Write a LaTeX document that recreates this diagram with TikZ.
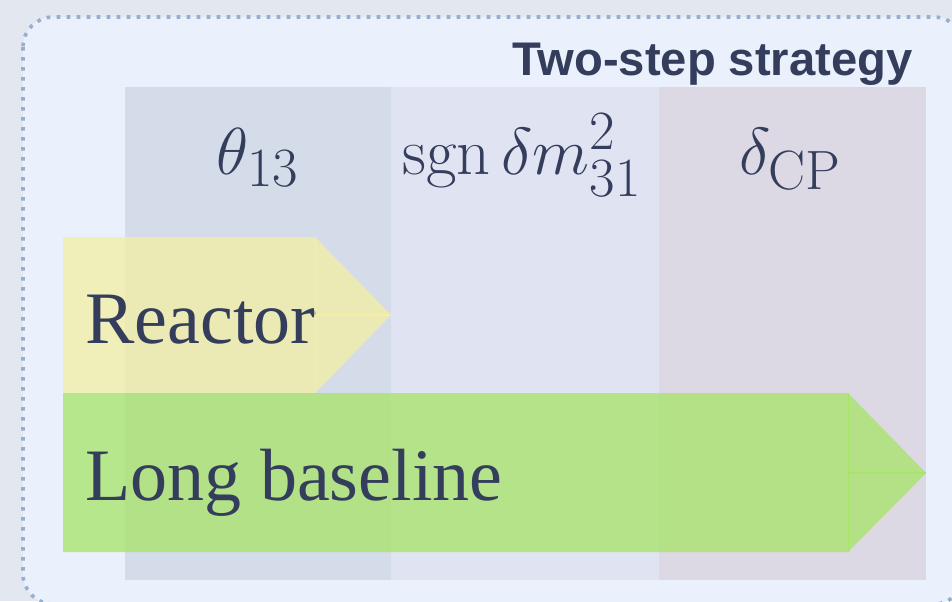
\documentclass[tikz,border=0pt]{standalone}
\usepackage{amsmath}
\usepackage{graphicx}
\usepackage{fontspec}
\newfontfamily\bodyserif{Liberation Serif}
\newfontfamily\titlesans{Liberation Sans}
\usetikzlibrary{positioning}

\definecolor{paper}{RGB}{227,232,240}
\definecolor{panelbg}{RGB}{234,240,252}
\definecolor{panelrim}{RGB}{150,174,208}
\definecolor{colA}{RGB}{212,220,234}
\definecolor{colB}{RGB}{224,227,242}
\definecolor{colC}{RGB}{220,216,228}
\definecolor{ink}{RGB}{52,62,92}
\definecolor{reactorcol}{RGB}{244,239,163}
\definecolor{lbcol}{RGB}{167,228,103}

\newcommand{\bigmath}[1]{\scalebox{1.335}{$#1$}}

\begin{document}
\begin{tikzpicture}[x=0.5pt, y=-0.5pt,
    col/.style={minimum height=246.5pt, inner sep=0pt, outer sep=0pt},
    param/.style={anchor=base, inner sep=0pt, text=ink, font=\fontsize{24.88}{30}\selectfont},
    probe/.style={anchor=base west, inner sep=0pt, text=ink, font=\bodyserif\fontsize{37}{44}\selectfont},
    seam/.style={line width=0.5pt}
]

\useasboundingbox (0,0) rectangle (952,601);
\fill[paper] (0,0) rectangle (952,601);
\filldraw[fill=panelbg, draw=panelrim, line width=1.8pt,
    dash pattern=on 1.8pt off 3.2pt, rounded corners=15pt]
    (23,17) rectangle (964,604);

\node[anchor=base east, inner sep=0pt, text=ink, font=\titlesans\bfseries\fontsize{23.6}{28}\selectfont]
    (title) at (913,75) {Two-step strategy};

\node[col, fill=colA, minimum width=133pt, anchor=north west] (c1) at (125,87) {};

\node[col, fill=colB, right=0pt of c1, minimum width=134pt] (c2) {};

\node[col, fill=colC, right=0pt of c2, minimum width=133.5pt] (c3) {};

\node[param] (theta) at ([yshift=-43.5pt]c1.north) {\bigmath{\theta_{13}}};
\node[param] (hier) at ([yshift=-43.5pt, xshift=-1.5pt]c2.north) {\bigmath{\operatorname{sgn}\delta m^2_{31}}};
\node[param] (dcp) at ([yshift=-43.5pt, xshift=-1pt]c3.north) {\bigmath{\delta_{\mathrm{CP}}}};

\fill[reactorcol, opacity=.75] (63,237) -- (315,237) -- (391,315) -- (315,393) -- (63,393) -- cycle;
\draw[reactorcol, seam] (315,237) -- (315,393);
\draw[reactorcol, seam, line width=1pt] (315,315) -- (391,315);
\fill[ink, opacity=.3] (313,313) circle (1.5pt);

\fill[lbcol, opacity=.75] (63,393) -- (848,393) -- (926,473) -- (848,552) -- (63,552) -- cycle;
\draw[lbcol, seam] (848,393) -- (848,552);
\draw[lbcol, seam, line width=1pt] (848,473) -- (926,473);

\node[probe] (reactor) at (85,343) {Reactor};
\node[probe] (lbl) at (85,500) {Long baseline};

\end{tikzpicture}
\end{document}
